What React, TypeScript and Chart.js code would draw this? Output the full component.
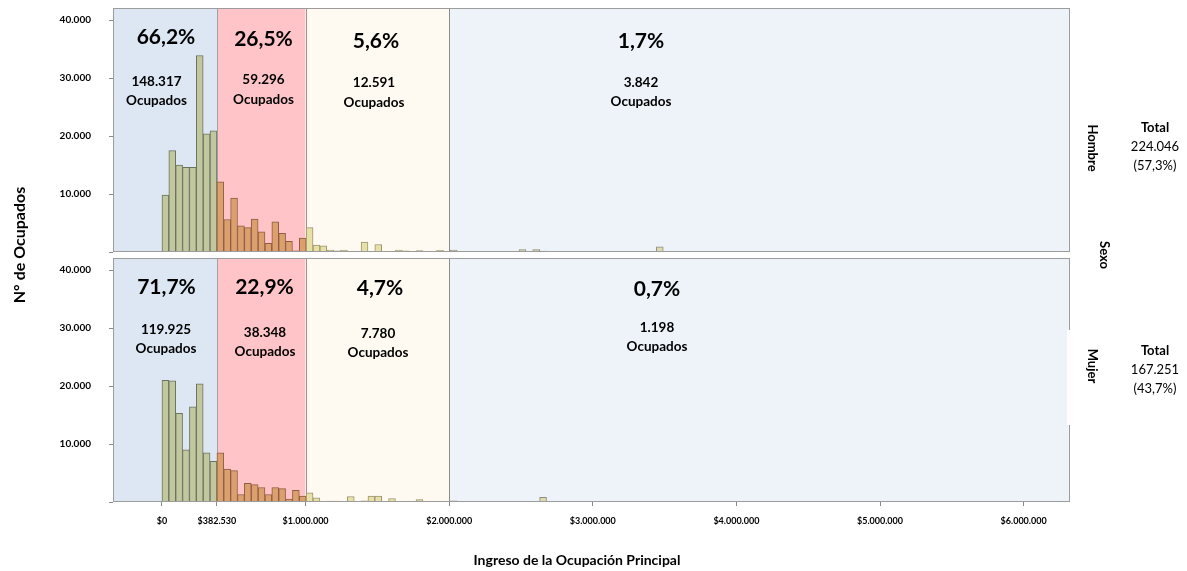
import React, { useEffect, useRef } from 'react';
import { Chart, registerables } from 'chart.js';

Chart.register(...registerables);

// ---------- DATA ----------
const BIN_WIDTH = 382530 / 8;
const REGION_BOUNDS = [382530, 1000000, 2000000];
const X_TICKS = [0, 382530, 1000000, 2000000, 3000000, 4000000, 5000000, 6000000];
const Y_TICKS = [0, 10000, 20000, 30000, 40000];

const HOMBRE_MAIN = [
  9800, 17500, 15000, 14600, 14600, 33900, 20400, 20900,
  12100, 5600, 9300, 4500, 4200, 5700, 3500, 1500, 5200, 3200, 1850, 200, 2400,
  4200, 1200, 1050, 350, 200, 350, 100, 0, 1700, 0, 1300, 0, 0, 350, 200, 0, 250, 0, 0, 300, 0, 350,
];
const HOMBRE_TAIL_BINS = [46, 52, 54, 55, 59, 60, 63, 72, 82, 83, 88, 99, 104];
const HOMBRE_TAIL_COUNTS = [100, 400, 400, 150, 100, 100, 100, 900, 100, 100, 100, 100, 100];

const MUJER_MAIN = [
  21000, 20900, 15300, 9000, 16400, 20400, 8500, 7000,
  8500, 5700, 5400, 1300, 3200, 3000, 2500, 1300, 2500, 2300, 500, 2000, 1000,
  1600, 700, 0, 150, 150, 0, 950, 0, 200, 1000, 1000, 0, 600, 0, 0, 0, 400, 0, 0, 0, 100, 200,
];
const MUJER_TAIL_BINS = [54, 55, 75];
const MUJER_TAIL_COUNTS = [100, 800, 100];

const HOMBRE_PCT = ['66,2%', '26,5%', '5,6%', '1,7%'];
const HOMBRE_OCC = ['148.317', '59.296', '12.591', '3.842'];
const MUJER_PCT = ['71,7%', '22,9%', '4,7%', '0,7%'];
const MUJER_OCC = ['119.925', '38.348', '7.780', '1.198'];

const SEX_LABELS = ['Hombre', 'Mujer'];
const SEX_TOTALS = ['224.046', '167.251'];
const SEX_SHARES = ['(57,3%)', '(43,7%)'];
const FACET_TITLE = 'Sexo';
const X_TITLE = 'Ingreso de la Ocupación Principal';
const Y_TITLE = 'N° de Ocupados';

// ---------- STYLE ----------
const FONT = 'Lato, "Noto Sans", sans-serif';
const BAND_COLORS = ['#dde7f3', '#ffc4c7', '#fffaf1', '#eef3fa'];
const SEP_COLORS = ['#9aa3ad', '#a09090', '#8c8c8c'];
const BAR_FILL = ['#c1c8a0', '#dca06f', '#e8e0a6', '#dedbb2'];
const BAR_BORDER = ['#6c725c', '#8e5c40', '#9a9472', '#8e8c7c'];

function fmt(v: number): string {
  return String(Math.round(v)).replace(/\B(?=(\d{3})+(?!\d))/g, '.');
}

function regionOf(x: number): number {
  let i = 0;
  while (i < REGION_BOUNDS.length && x > REGION_BOUNDS[i]) i++;
  return i;
}

function buildPoints(main: number[], tailBins: number[], tailCounts: number[]) {
  const pts = main.map((c, k) => ({ x: (k + 0.5) * BIN_WIDTH, y: c }));
  tailBins.forEach((b, i) => pts.push({ x: (b + 0.5) * BIN_WIDTH, y: tailCounts[i] }));
  return pts;
}

const decorPlugin = {
  id: 'decor',
  beforeDatasetsDraw(chart: any) {
    const { ctx, scales } = chart;
    const x = scales.x;
    const edges = [x.left, ...REGION_BOUNDS.map((v) => x.getPixelForValue(v)), x.right];
    [scales.yTop, scales.yBot].forEach((p: any) => {
      ctx.save();
      for (let i = 0; i < 4; i++) {
        ctx.fillStyle = BAND_COLORS[i];
        ctx.fillRect(edges[i], p.top, edges[i + 1] - edges[i], p.bottom - p.top);
      }
      REGION_BOUNDS.forEach((v, i) => {
        const px = Math.round(x.getPixelForValue(v)) + 0.5;
        ctx.strokeStyle = SEP_COLORS[i];
        ctx.lineWidth = 1;
        ctx.beginPath();
        ctx.moveTo(px, p.top);
        ctx.lineTo(px, p.bottom);
        ctx.stroke();
      });
      ctx.restore();
    });
  },
  afterDatasetsDraw(chart: any) {
    const { ctx, scales } = chart;
    const x = scales.x;
    ctx.save();
    [scales.yTop, scales.yBot].forEach((p: any) => {
      ctx.strokeStyle = '#9c9c9c';
      ctx.lineWidth = 1;
      ctx.strokeRect(Math.round(x.left) + 0.5, Math.round(p.top) + 0.5, Math.round(x.right - x.left) - 1, Math.round(p.bottom - p.top) - 1);
    });
    ctx.fillStyle = '#000';
    ctx.textAlign = 'center';
    ctx.textBaseline = 'middle';
    const panels = [
      { pct: HOMBRE_PCT, occ: HOMBRE_OCC, pctX: [166, 263.5, 376, 641], pctY: [37, 39.5, 41, 41], occX: [156.5, 263.5, 374, 641], occY: [82, 80, 83, 83], ocpY: [101, 100, 103, 102] },
      { pct: MUJER_PCT, occ: MUJER_OCC, pctX: [166.5, 264.5, 380, 657], pctY: [287.5, 287, 288, 289], occX: [166, 265, 378, 657], occY: [330, 332.5, 334, 328], ocpY: [348.5, 351.5, 353, 347] },
    ];
    panels.forEach((pn) => {
      for (let i = 0; i < 4; i++) {
        ctx.font = `bold 21px ${FONT}`;
        ctx.fillText(pn.pct[i], pn.pctX[i], pn.pctY[i]);
        ctx.font = `bold 13.5px ${FONT}`;
        ctx.fillText(pn.occ[i], pn.occX[i], pn.occY[i]);
        ctx.fillText('Ocupados', pn.occX[i], pn.ocpY[i]);
      }
    });
    ctx.restore();
  },
  afterDraw(chart: any) {
    const { ctx } = chart;
    ctx.save();
    // cover part of right border (text box in original)
    ctx.fillStyle = '#ffffff';
    ctx.fillRect(1067, 330, 8, 95);
    ctx.fillStyle = '#000';
    ctx.textAlign = 'center';
    ctx.textBaseline = 'middle';
    // axis titles
    ctx.font = `bold 14px ${FONT}`;
    ctx.fillText(X_TITLE, 577, 560);
    ctx.save();
    ctx.translate(20, 245);
    ctx.rotate(-Math.PI / 2);
    ctx.font = `bold 16px ${FONT}`;
    ctx.fillText(Y_TITLE, 0, 0);
    ctx.restore();
    // facet labels
    const rot = (t: string, cx: number, cy: number) => {
      ctx.save();
      ctx.translate(cx, cy);
      ctx.rotate(Math.PI / 2);
      ctx.font = `bold 13px ${FONT}`;
      ctx.fillText(t, 0, 0);
      ctx.restore();
    };
    rot(SEX_LABELS[0], 1092, 148);
    rot(FACET_TITLE, 1104, 255);
    rot(SEX_LABELS[1], 1092, 366);
    const totY = [[128, 147, 166], [351, 370, 389]];
    for (let i = 0; i < 2; i++) {
      ctx.font = `bold 13px ${FONT}`;
      ctx.fillText('Total', 1155, totY[i][0]);
      ctx.font = `13px ${FONT}`;
      ctx.fillText(SEX_TOTALS[i], 1155, totY[i][1]);
      ctx.fillText(SEX_SHARES[i], 1155, totY[i][2]);
    }
    ctx.restore();
  },
};

export default function App() {
  const ref = useRef<HTMLCanvasElement | null>(null);
  useEffect(() => {
    if (!ref.current) return;
    const barStyle = {
      backgroundColor: (c: any) => (c.raw ? BAR_FILL[regionOf(c.raw.x)] : BAR_FILL[0]),
      borderColor: (c: any) => (c.raw ? BAR_BORDER[regionOf(c.raw.x)] : BAR_BORDER[0]),
      borderWidth: 1,
      barPercentage: 1,
      categoryPercentage: 1,
      grouped: false,
    };
    const yTickFont = { family: FONT, size: 10, weight: 'bold' as const };
    const yCommon = (weight: number, order: number) => ({
      type: 'linear' as const,
      position: 'left' as const,
      stack: 'v',
      stackWeight: weight,
      weight: order,
      min: 0,
      max: 42100,
      afterBuildTicks: (s: any) => {
        s.ticks = Y_TICKS.map((v) => ({ value: v }));
      },
      afterFit: (s: any) => {
        s.width = 113;
        s.paddingTop = 0;
        s.paddingBottom = 0;
      },
      grid: { drawOnChartArea: false, drawTicks: true, tickLength: 4, color: '#8a8a8a' },
      border: { display: false },
      ticks: {
        font: yTickFont,
        color: '#000',
        padding: 18,
        callback: (v: any) => (v === 0 ? '' : fmt(v)),
      },
    });
    const chart = new Chart(ref.current, {
      type: 'bar',
      data: {
        datasets: [
          { label: SEX_LABELS[0], data: buildPoints(HOMBRE_MAIN, HOMBRE_TAIL_BINS, HOMBRE_TAIL_COUNTS), yAxisID: 'yTop', ...barStyle } as any,
          { label: SEX_LABELS[1], data: buildPoints(MUJER_MAIN, MUJER_TAIL_BINS, MUJER_TAIL_COUNTS), yAxisID: 'yBot', ...barStyle } as any,
        ],
      },
      options: {
        responsive: false,
        animation: false,
        layout: { padding: { top: 8, right: 117, bottom: 0, left: 0 } },
        plugins: { legend: { display: false }, tooltip: { enabled: false } },
        scales: {
          x: {
            type: 'linear',
            position: 'bottom',
            offset: false,
            min: -341000,
            max: 6323000,
            afterBuildTicks: (s: any) => {
              s.ticks = X_TICKS.map((v) => ({ value: v }));
            },
            afterFit: (s: any) => {
              s.height = 69;
            },
            grid: { offset: false, drawOnChartArea: false, drawTicks: true, tickLength: 4, color: '#8a8a8a' },
            border: { display: false },
            ticks: {
              autoSkip: false,
              maxRotation: 0,
              padding: 10,
              color: '#000',
              font: { family: FONT, size: 9, weight: 'bold' },
              callback: (v: any) => '$' + fmt(v),
            },
          },
          yTop: yCommon(244, 3),
          yGap: {
            type: 'linear',
            position: 'left',
            stack: 'v',
            stackWeight: 6,
            weight: 2,
            grid: { display: false },
            border: { display: false },
            ticks: { display: false },
          },
          yBot: yCommon(244, 1),
        } as any,
      },
      plugins: [decorPlugin],
    });
    return () => chart.destroy();
  }, []);
  return (
    <div style={{ position: 'absolute', left: 0, top: 0, width: 1187, height: 571, background: '#fff' }}>
      <canvas ref={ref} width={1187} height={571} style={{ width: 1187, height: 571, display: 'block' }} />
    </div>
  );
}
